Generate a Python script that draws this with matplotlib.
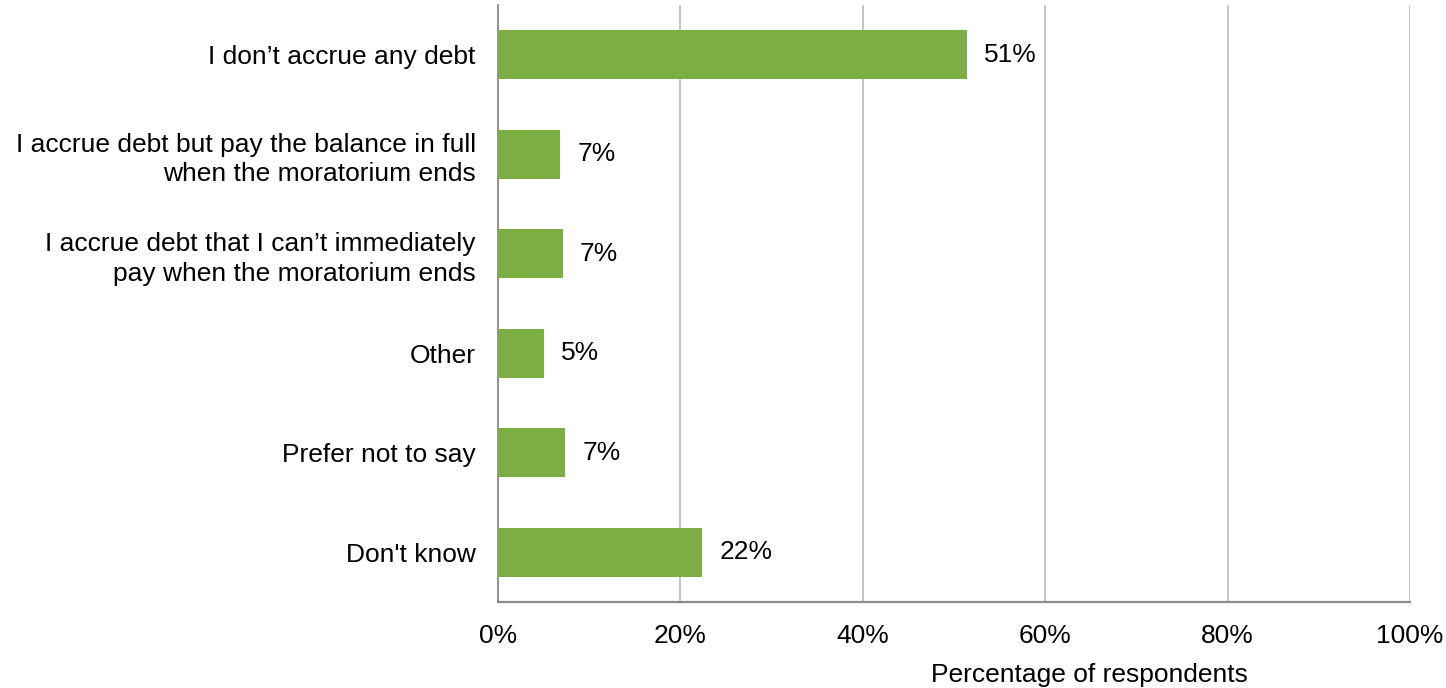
import matplotlib.pyplot as plt
from matplotlib.ticker import PercentFormatter

plt.rcParams['font.family'] = ['Liberation Sans', 'DejaVu Sans']

answers = [
    "I don\u2019t accrue any debt",
    "I accrue debt but pay the balance in full\nwhen the moratorium ends",
    "I accrue debt that I can\u2019t immediately\npay when the moratorium ends",
    "Other",
    "Prefer not to say",
    "Don't know",
]
share = [51.4, 6.8, 7.1, 5.0, 7.4, 22.4]
x_ticks = [0, 20, 40, 60, 80, 100]

bar_color = '#7CAF43'
grid_color = '#C0C0C0'
axis_color = '#8C8C8C'
fs = 19

fig = plt.figure(figsize=(14.46, 6.88), dpi=100)
ax = fig.add_axes([0.3444, 0.125, 0.6307, 0.8677])

pos = range(len(answers))
ax.barh(pos, share, height=0.49, color=bar_color, zorder=3)
for p, v in zip(pos, share):
    ax.text(v + 1.9, p, f"{v:.0f}%", va='center', ha='left', fontsize=fs)

ax.set_ylim(len(answers) - 0.5, -0.5)
ax.set_yticks(list(pos))
ax.set_yticklabels(answers, fontsize=fs, linespacing=1.3)
ax.set_xlim(0, 100)
ax.set_xticks(x_ticks)
ax.xaxis.set_major_formatter(PercentFormatter(decimals=0))
ax.tick_params(axis='x', length=0, pad=16, labelsize=fs)
ax.tick_params(axis='y', length=0, pad=16)

ax.grid(axis='x', color=grid_color, linewidth=1.3, zorder=0)
for side in ('top', 'right'):
    ax.spines[side].set_visible(False)
ax.spines['left'].set_color(axis_color)
ax.spines['bottom'].set_color(axis_color)
ax.spines['left'].set_linewidth(1.3)
ax.spines['bottom'].set_linewidth(1.6)

ax.set_xlabel("Percentage of respondents", fontsize=fs)
ax.xaxis.set_label_coords(0.648, -0.122)
ax.xaxis.label.set_va('center')

fig.savefig("out.png", dpi=100)
